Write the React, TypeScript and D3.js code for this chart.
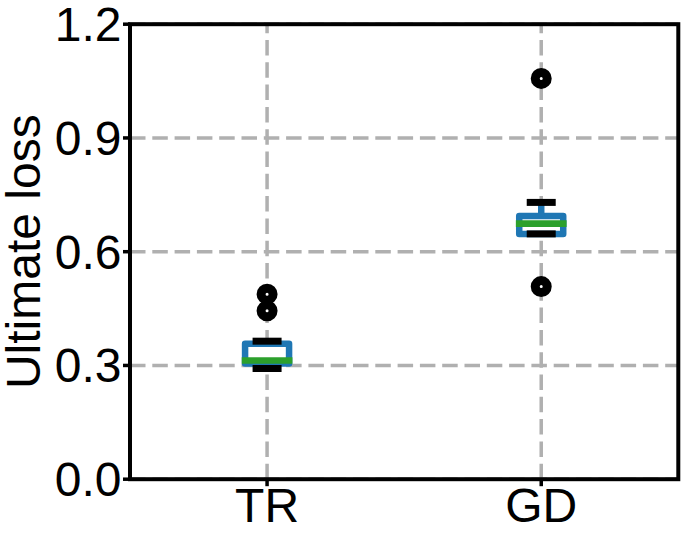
import React from 'react'
import { scaleLinear, scaleBand } from 'd3'

// box stats
const categories = ['TR', 'GD']
const whiskerLow = [0.292, 0.647]
const q1 = [0.305, 0.647]
const median = [0.313, 0.674]
const q3 = [0.357, 0.694]
const whiskerHigh = [0.364, 0.73]
const fliers = [[0.488, 0.444], [1.057, 0.508]]
const yTicks = [0.0, 0.3, 0.6, 0.9, 1.2]

const W = 684
const H = 539
const margin = { left: 130, right: 684 - 678.3, top: 24.2, bottom: 539 - 479.2 }

const BLUE = '#1f77b4'
const GREEN = '#2ca02c'
const GRID = '#b0b0b0'
const FONT = '"Liberation Sans", Arial, sans-serif'

function App() {
  const x0 = margin.left
  const x1 = W - margin.right
  const y0 = H - margin.bottom
  const y1 = margin.top

  const xScale = scaleLinear().domain([0.5, 2.5]).range([x0, x1])
  const yScale = scaleLinear().domain([0, 1.2]).range([y0, y1])
  const xPos = (i: number) => xScale(i + 1)

  const boxW = 44
  const capW = boxW / 2

  return (
    <svg width={W} height={H} style={{ position: 'absolute', left: 0, top: 0, background: '#fff' }}>
      {/* grid */}
      <g stroke={GRID} strokeWidth={3.5} strokeDasharray="15.5 6.8">
        {yTicks.map(t => (
          <line key={'gy' + t} x1={x0} x2={x1} y1={yScale(t)} y2={yScale(t)} />
        ))}
        {categories.map((c, i) => (
          <line key={'gx' + c} x1={xPos(i)} x2={xPos(i)} y1={y0} y2={y1} />
        ))}
      </g>

      {/* boxes */}
      {categories.map((c, i) => {
        const cx = xPos(i)
        return (
          <g key={c}>
            <rect x={cx - boxW / 2} width={boxW} y={yScale(q3[i])} height={yScale(q1[i]) - yScale(q3[i])}
              fill="#fff" stroke={BLUE} strokeWidth={6.5} strokeLinejoin="round" />
            <line x1={cx} x2={cx} y1={yScale(q3[i])} y2={yScale(whiskerHigh[i])} stroke={BLUE} strokeWidth={6.5} />
            <line x1={cx} x2={cx} y1={yScale(q1[i])} y2={yScale(whiskerLow[i])} stroke={BLUE} strokeWidth={6.5} />
            <line x1={cx - capW / 2} x2={cx + capW / 2} y1={yScale(whiskerHigh[i])} y2={yScale(whiskerHigh[i])}
              stroke="#000" strokeWidth={7} strokeLinecap="square" />
            <line x1={cx - capW / 2} x2={cx + capW / 2} y1={yScale(whiskerLow[i])} y2={yScale(whiskerLow[i])}
              stroke="#000" strokeWidth={7} strokeLinecap="square" />
            <line x1={cx - boxW / 2} x2={cx + boxW / 2} y1={yScale(median[i])} y2={yScale(median[i])}
              stroke={GREEN} strokeWidth={6.7} strokeLinecap="square" />
            {fliers[i].map((v, k) => (
              <circle key={k} cx={cx} cy={yScale(v)} r={6} fill="#fff" stroke="#000" strokeWidth={9} />
            ))}
          </g>
        )
      })}

      {/* frame */}
      <rect x={x0} y={y1} width={x1 - x0} height={y0 - y1} fill="none" stroke="#000" strokeWidth={4} />

      {/* y ticks */}
      {yTicks.map(t => (
        <g key={'yt' + t}>
          <line x1={x0} x2={x0 - 7} y1={yScale(t)} y2={yScale(t)} stroke="#000" strokeWidth={3.5} />
          <text x={121.5} y={yScale(t)} dy="0.35em" textAnchor="end" fontFamily={FONT} fontSize={48}>
            {t.toFixed(1)}
          </text>
        </g>
      ))}

      {/* x ticks */}
      {categories.map((c, i) => (
        <g key={'xt' + c}>
          <line x1={xPos(i)} x2={xPos(i)} y1={y0} y2={y0 + 7} stroke="#000" strokeWidth={3.5} />
          <text x={xPos(i)} y={522} textAnchor="middle" fontFamily={FONT} fontSize={48}>{c}</text>
        </g>
      ))}

      <text transform={`translate(40,${(y0 + y1) / 2}) rotate(-90)`} textAnchor="middle" fontFamily={FONT} fontSize={48}>
        Ultimate loss
      </text>
    </svg>
  )
}

export default App
